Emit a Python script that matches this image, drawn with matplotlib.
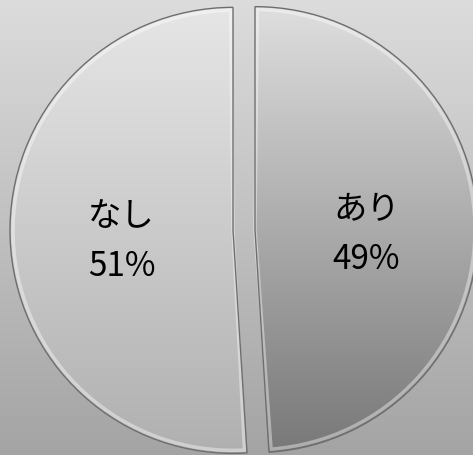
import numpy as np
import matplotlib.pyplot as plt
from matplotlib.colors import LinearSegmentedColormap
from matplotlib.patches import Wedge

plt.rcParams['font.family'] = ['Noto Sans CJK JP', 'DejaVu Sans']

categories = ['あり', 'なし']
shares = [49, 51]
pct_labels = ['49%', '51%']

# top -> bottom grey shades per slice
slice_shades = [('#dedede', '#787878'), ('#e6e6e6', '#b0b0b0')]


def vertical_gradient(ax, top, bottom, extent, clip=None, zorder=0):
    cmap = LinearSegmentedColormap.from_list('g', [bottom, top])
    grad = np.linspace(0, 1, 256).reshape(-1, 1)
    im = ax.imshow(grad, cmap=cmap, origin='lower', aspect='auto',
                   extent=extent, zorder=zorder, interpolation='bicubic')
    if clip is not None:
        im.set_clip_path(clip)
    return im


def main():
    W, H = 473, 455
    fig = plt.figure(figsize=(W / 100, H / 100), dpi=100)
    ax = fig.add_axes([0, 0, 1, 1])

    # background
    vertical_gradient(ax, '#dcdcdc', '#a4a4a4', (0, W, 0, H), zorder=0)

    cx, cy, r = 244, 225, 223
    labels = [f'{c}\n{p}' for c, p in zip(categories, pct_labels)]
    # explode is in data units here (pixels)
    wedges, texts = ax.pie(shares, labels=labels, startangle=90, counterclock=False,
                           explode=[11, 11], center=(cx, cy), radius=r,
                           labeldistance=0.5, frame=True,
                           wedgeprops=dict(facecolor='none', edgecolor='#6e6e6e', linewidth=1.0),
                           textprops=dict(fontsize=24, color='black'))
    ax.set_xlim(0, W)
    ax.set_ylim(0, H)
    ax.axis('off')

    for w, (top, bottom) in zip(wedges, slice_shades):
        w.set_zorder(4)
        vertical_gradient(ax, top, bottom, (0, W, cy - r, cy + r), clip=w, zorder=2)
        # soft bevel highlight just inside the rim
        inner = Wedge(w.center, w.r - 3, w.theta1 + 0.6, w.theta2 - 0.6,
                      facecolor='none', edgecolor='white', alpha=0.4,
                      linewidth=2.5, zorder=3)
        ax.add_patch(inner)

    for t in texts:
        t.set_ha('center')
        t.set_va('center')
        t.set_multialignment('center')
        t.set_linespacing(1.55)
        t.set_y(t.get_position()[1] - 8)
        t.set_zorder(5)

    plt.savefig('out.png', dpi=100)


if __name__ == '__main__':
    main()
